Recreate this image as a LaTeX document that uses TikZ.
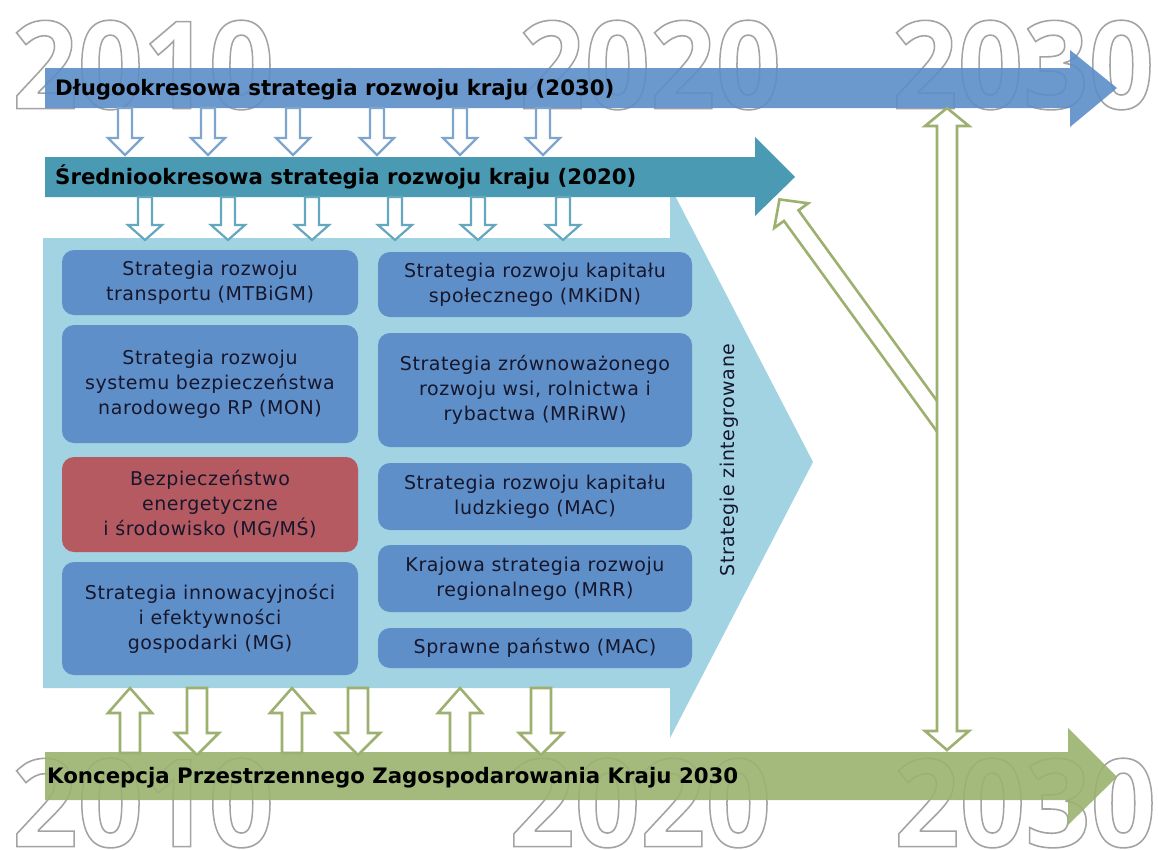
\documentclass[tikz,border=0pt]{standalone}
\usepackage{fontspec}
\setmainfont{DejaVu Sans}
\newfontfamily\yearfont{Open Sans}
\usepackage{xcolor}
\usetikzlibrary{calc}
\definecolor{longblue}{HTML}{5C8DC8}
\definecolor{midteal}{HTML}{4B9AB4}
\definecolor{paleblue}{HTML}{A2D3E3}
\definecolor{boxblue}{HTML}{5F8FC8}
\definecolor{boxred}{HTML}{B65A61}
\definecolor{spacegreen}{HTML}{9BB36F}
\definecolor{greenline}{HTML}{9DB06F}
\definecolor{arrowblue}{HTML}{7EA5CE}
\definecolor{arrowteal}{HTML}{64A7BE}
\definecolor{inktext}{HTML}{16162C}

\newcommand{\boxfont}{\addfontfeature{LetterSpace=3}\fontsize{19}{25}\selectfont}
% outlined year: white face, gray stroke
\newcommand{\yearmarktext}[1]{{\color{white}\special{pdf:literal direct 2 Tr 1.6 w 0.64 0.64 0.64 RG}#1\special{pdf:literal direct 0 Tr}}}
% hollow block arrow: style, tail, angle, length, half shaft, half head, head length
\newcommand{\hollowarrow}[7]{%
  \begin{scope}[shift={#2}, rotate=#3]
    \draw[#1] (0,-#5) -- ({#4-#7},-#5) -- ({#4-#7},-#6) -- (#4,0) -- ({#4-#7},#6) -- ({#4-#7},#5) -- (0,#5) -- cycle;
  \end{scope}}

\tikzset{
  bandtext/.style={anchor=base west, inner sep=0pt, text=black, font=\fontsize{21.3}{21.3}\selectfont\bfseries},
  stratbox/.style={fill=boxblue, rounded corners=12pt, inner sep=0pt, align=center, text=inktext, font=\boxfont},
  yearmark/.style={anchor=north west, inner sep=0pt, xscale=0.94, font=\yearfont\fontsize{122}{122}\selectfont\bfseries},
  downblue/.style={draw=arrowblue, fill=white, line width=2.2pt},
  downteal/.style={draw=arrowteal, fill=white, line width=2.2pt},
  greenarrow/.style={draw=greenline, fill=white, line width=2.6pt}
}

\begin{document}
\begin{tikzpicture}[x=1pt, y=-1pt]
  % Canvas
  \fill[white] (0,0) rectangle (1158,849);
  \useasboundingbox (0,0) rectangle (1158,849);

  % Year marks
  \node[yearmark] (yr10top) at (12,20) {\yearmarktext{2010}};
  \node[yearmark] (yr20top) at (519,20) {\yearmarktext{2020}};
  \node[yearmark] (yr30top) at (892,20) {\yearmarktext{2030}};
  \node[yearmark] (yr10bot) at (12,758) {\yearmarktext{2010}};
  \node[yearmark] (yr20bot) at (509,758) {\yearmarktext{2020}};
  \node[yearmark] (yr30bot) at (894,758) {\yearmarktext{2030}};

  % Long-term band
  \fill[longblue, opacity=0.9] (45,68) -- (1070,68) -- (1070,50) -- (1117,88) -- (1070,127) -- (1070,108) -- (45,108) -- cycle;
  \node[bandtext] (longterm) at (55,95.5) {Długookresowa strategia rozwoju kraju (2030)};

  % Integrated strategies arrow
  \fill[paleblue] (43,238) -- (670,238) -- (670,186) -- (813,462) -- (670,738) -- (670,688) -- (43,688) -- cycle;

  % Mid-term band
  \fill[midteal] (45,157) -- (755,157) -- (755,137) -- (795,177) -- (755,216) -- (755,197) -- (45,197) -- cycle;
  \node[bandtext] (midterm) at (55,184.5) {Średniookresowa strategia rozwoju kraju (2020)};

  % Spatial concept band
  \fill[spacegreen, opacity=0.9] (45,752) -- (1068,752) -- (1068,728) -- (1117,777) -- (1068,825) -- (1068,800) -- (45,800) -- cycle;
  \node[bandtext] (spatial) at (47,783.5) {Koncepcja Przestrzennego Zagospodarowania Kraju 2030};

  % Strategy boxes, left column
  \node[stratbox, minimum width=296, minimum height=65] (transport) at (210,282.5) {Strategia rozwoju\\transportu (MTBiGM)};
  \node[stratbox, minimum width=296, minimum height=118] (security) at (210,384) {Strategia rozwoju\\systemu bezpieczeństwa\\narodowego RP (MON)};
  \node[stratbox, fill=boxred, minimum width=296, minimum height=95] (energy) at (210,504.5) {Bezpieczeństwo\\energetyczne\\i środowisko (MG/MŚ)};
  \node[stratbox, minimum width=296, minimum height=113] (innovation) at (210,618.5) {Strategia innowacyjności\\i efektywności\\gospodarki (MG)};

  % Strategy boxes, right column
  \node[stratbox, minimum width=314, minimum height=65] (social) at (535,284.5) {Strategia rozwoju kapitału\\społecznego (MKiDN)};
  \node[stratbox, minimum width=314, minimum height=114] (rural) at (535,390) {Strategia zrównoważonego\\rozwoju wsi, rolnictwa i\\rybactwa (MRiRW)};
  \node[stratbox, minimum width=314, minimum height=67] (human) at (535,496.5) {Strategia rozwoju kapitału\\ludzkiego (MAC)};
  \node[stratbox, minimum width=314, minimum height=67] (regional) at (535,578.5) {Krajowa strategia rozwoju\\regionalnego (MRR)};
  \node[stratbox, minimum width=314, minimum height=40] (state) at (535,648) {Sprawne państwo (MAC)};

  \node[font=\boxfont, text=inktext, rotate=90, inner sep=0pt] (integrated) at (729,460) {Strategie zintegrowane};

  % Arrows long-term -> mid-term
  \foreach \xa in {125,208,293,377,460,543} {
    \hollowarrow{downblue}{(\xa,108)}{-90}{47}{7}{17}{17}
  }
  % Arrows mid-term -> strategies
  \foreach \xa in {145,228,312,395,478,563} {
    \hollowarrow{downteal}{(\xa,197)}{-90}{43}{7}{17}{15}
  }

  % Arrows between strategies and spatial concept
  \foreach \xa in {130,292,460} {
    \hollowarrow{greenarrow}{(\xa,753)}{90}{65}{10}{22}{25}
  }
  \foreach \xa in {197,358,541} {
    \hollowarrow{greenarrow}{(\xa,688)}{-90}{67}{10}{22}{22}
  }

  % Feedback arrows on the right
  \hollowarrow{greenarrow}{(947,430)}{126}{285}{9}{21}{20}
  \draw[greenarrow] (947,108) -- (969,126) -- (957,126) -- (957,731) -- (969,731) -- (947,750) -- (925,731) -- (937,731) -- (937,126) -- (925,126) -- cycle;
\end{tikzpicture}
\end{document}
